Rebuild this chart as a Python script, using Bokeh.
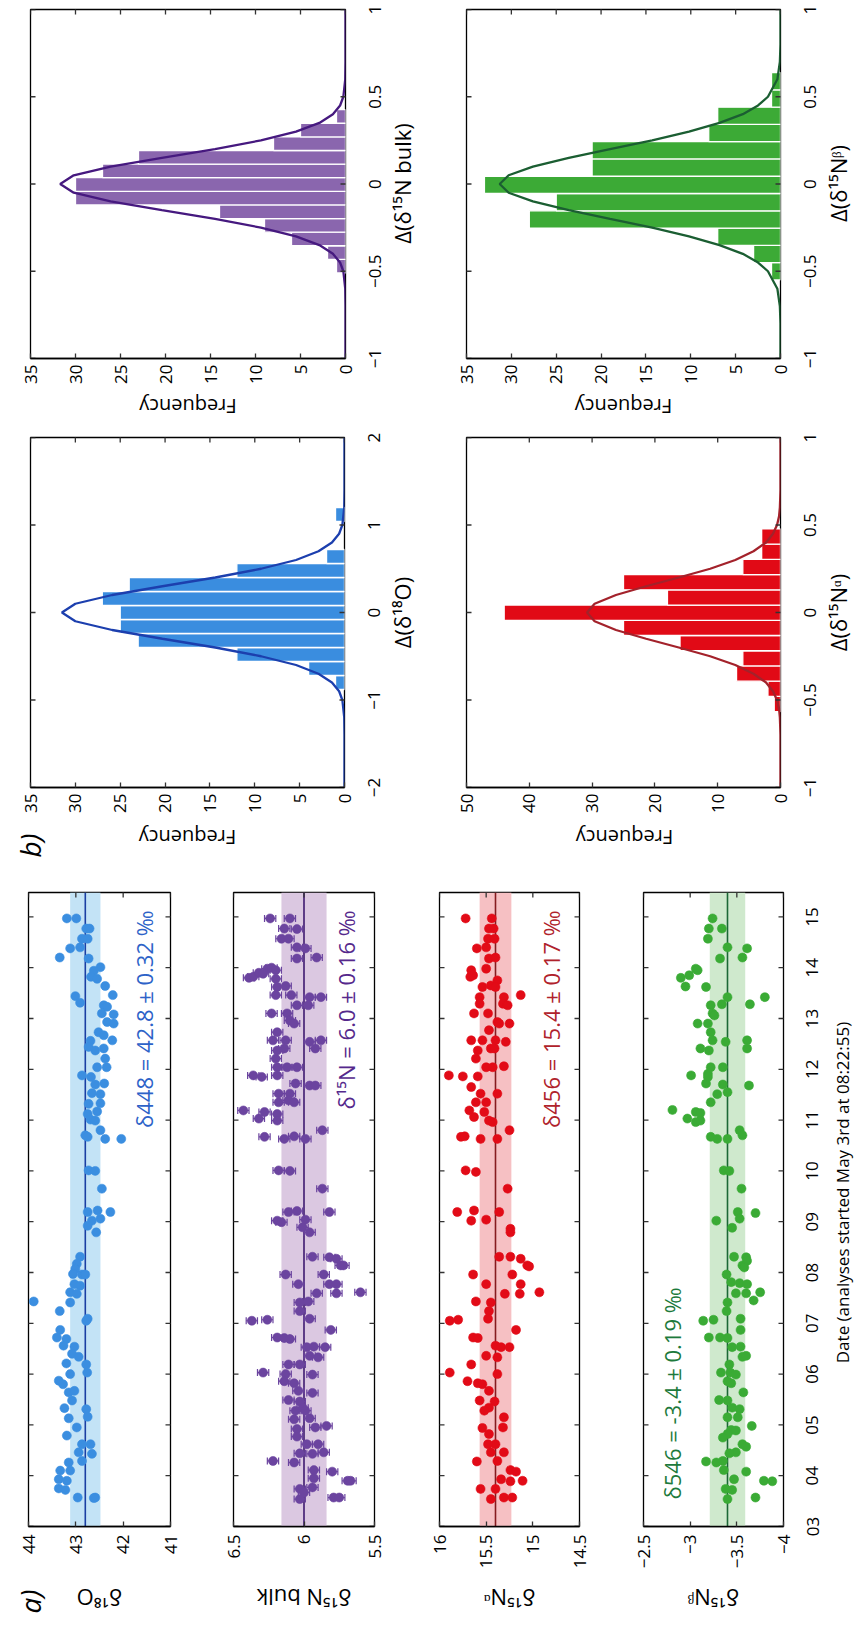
import math
from bokeh.plotting import figure
from bokeh.models import (Range1d, FixedTicker, LinearAxis, BoxAnnotation, Span, Label,
                          ColumnDataSource, Whisker, TeeHead)
from bokeh.layouts import column, row
from bokeh.embed import file_html
from bokeh.resources import INLINE

FONT = "Open Sans"
TICK_SIZE = "17px"

# ---------------- data: time series (date in May, value) ----------------
date_ticks = [3, 4, 5, 6, 7, 8, 9, 10, 11, 12, 13, 14, 15]
date_tick_labels = ["03", "04", "05", "06", "07", "08", "09", "10", "11", "12", "13", "14", "15"]

d18O_points = [
    (14.97, 43.19), (14.97, 42.99), (14.77, 42.78), (14.77, 42.71), (14.57, 42.87), (14.57, 42.75),
    (14.38, 43.12), (14.40, 42.91), (14.20, 43.34), (14.18, 42.73), (14.01, 42.48), (13.94, 42.62),
    (13.82, 42.68), (13.78, 42.55), (13.64, 42.38), (13.44, 43.01), (13.31, 42.91), (13.46, 42.22),
    (13.26, 42.41), (13.23, 42.34), (13.10, 42.45), (13.08, 42.20), (12.93, 42.34), (12.90, 42.20),
    (12.73, 42.52), (12.67, 42.41), (12.57, 42.23), (12.56, 42.69), (12.37, 42.59), (12.41, 42.41),
    (12.44, 42.73), (12.21, 42.38), (12.04, 42.55), (12.04, 42.35), (11.88, 42.87), (11.85, 42.68),
    (11.70, 42.59), (11.72, 42.40), (11.53, 42.66), (11.51, 42.48), (11.32, 42.73), (11.33, 42.48),
    (11.17, 42.55), (11.12, 42.75), (11.01, 42.69), (10.99, 42.59), (10.80, 42.48), (10.63, 42.38),
    (10.70, 42.80), (10.67, 42.75), (10.63, 42.04), (10.01, 42.73), (10.00, 42.59), (9.65, 42.45),
    (9.19, 42.75), (9.22, 42.54), (9.19, 42.27), (9.02, 42.66), (9.06, 42.48), (8.92, 42.75),
    (8.79, 42.57), (8.31, 42.91), (8.17, 42.98), (8.07, 43.01), (7.96, 42.87), (7.97, 43.06),
    (7.96, 42.80), (7.77, 43.03), (7.74, 42.91), (7.61, 43.12), (7.58, 42.98), (7.43, 43.89),
    (7.41, 43.12), (7.24, 43.34), (7.09, 42.75), (7.05, 42.78), (6.87, 43.33), (6.72, 43.40),
    (6.69, 43.20), (6.56, 43.26), (6.54, 43.03), (6.40, 43.08), (6.34, 42.94), (6.21, 43.20),
    (6.19, 42.78), (6.03, 42.76), (6.00, 43.12), (5.87, 43.36), (5.80, 43.27), (5.64, 43.15),
    (5.67, 43.03), (5.48, 43.08), (5.33, 43.24), (5.31, 42.78), (5.16, 42.75), (5.13, 43.15),
    (4.95, 42.98), (4.79, 43.19), (4.62, 42.87), (4.62, 42.69), (4.46, 42.94), (4.43, 42.66),
    (4.29, 42.87), (4.26, 43.15), (4.10, 43.12), (4.10, 43.33), (3.93, 43.36), (3.90, 43.19),
    (3.75, 43.36), (3.72, 43.22), (3.57, 42.96), (3.57, 42.59), (3.56, 42.62),
]

bulk_points = [
    (14.97, 6.24), (14.97, 6.10), (14.77, 6.14), (14.76, 6.05), (14.57, 6.16), (14.57, 6.11),
    (14.40, 6.05), (14.38, 5.99), (14.20, 5.91), (14.18, 6.05), (13.80, 6.39), (13.82, 6.36),
    (13.90, 6.32), (13.98, 6.26), (14.00, 6.23), (13.95, 6.20), (13.88, 6.29), (13.78, 6.20),
    (13.62, 6.19), (13.64, 6.13), (13.46, 6.09), (13.46, 6.20), (13.42, 5.96), (13.42, 5.88),
    (13.26, 6.05), (13.26, 5.97), (13.10, 6.23), (13.10, 6.12), (12.96, 6.10), (12.90, 6.07),
    (12.73, 6.19), (12.57, 6.22), (12.57, 6.13), (12.41, 6.14), (12.37, 6.19), (12.54, 5.96),
    (12.57, 5.88), (12.41, 5.92), (12.21, 6.20), (12.04, 6.19), (12.04, 6.12), (12.04, 6.05),
    (11.88, 6.36), (11.85, 6.30), (11.88, 6.19), (11.72, 6.06), (11.52, 6.18), (11.52, 6.10),
    (11.35, 6.18), (11.68, 5.96), (11.68, 5.92), (11.39, 6.11), (11.35, 6.07), (11.19, 6.43),
    (11.03, 6.32), (11.16, 6.28), (11.12, 6.19), (10.99, 6.19), (10.67, 6.28), (10.63, 6.14),
    (10.68, 6.07), (10.63, 5.99), (10.80, 5.87), (10.01, 6.18), (10.00, 6.10), (9.65, 5.87),
    (9.19, 6.11), (9.21, 6.05), (9.19, 5.82), (9.02, 6.19), (8.99, 6.16), (9.04, 5.99),
    (8.89, 6.01), (8.79, 5.96), (8.31, 5.94), (8.30, 5.82), (8.27, 5.77), (8.14, 5.74),
    (8.14, 5.72), (7.96, 6.13), (7.96, 5.86), (7.77, 6.04), (7.77, 5.82), (7.77, 5.77),
    (7.59, 5.91), (7.59, 5.77), (7.61, 5.60), (7.41, 6.03), (7.43, 5.97), (7.24, 6.03),
    (7.09, 5.96), (7.05, 6.37), (7.07, 6.26), (6.87, 5.81), (6.72, 6.19), (6.71, 6.14),
    (6.69, 6.10), (6.53, 5.98), (6.54, 5.93), (6.53, 5.85), (6.36, 5.96), (6.33, 5.90),
    (6.19, 6.11), (6.19, 6.03), (6.03, 6.29), (6.00, 6.13), (5.99, 5.94), (5.86, 6.14),
    (5.82, 6.07), (5.67, 6.04), (5.63, 5.94), (5.49, 6.11), (5.46, 6.03), (5.34, 6.01),
    (5.28, 6.06), (5.28, 5.99), (5.13, 5.96), (5.11, 6.07), (4.98, 5.84), (4.92, 6.05),
    (4.95, 5.92), (4.77, 6.05), (4.62, 5.98), (4.62, 5.90), (4.46, 5.86), (4.43, 5.94),
    (4.44, 6.03), (4.29, 6.22), (4.26, 6.07), (4.11, 5.93), (4.08, 5.80), (3.95, 5.93),
    (3.90, 5.69), (3.90, 5.67), (3.77, 5.94), (3.74, 6.03), (3.67, 6.00), (3.54, 6.03),
    (3.57, 5.79), (3.57, 5.75),
]

alpha_points = [
    (14.97, 15.72), (14.97, 15.44), (14.77, 15.47), (14.77, 15.42), (14.57, 15.48), (14.57, 15.41),
    (14.38, 15.60), (14.40, 15.50), (14.18, 15.47), (14.20, 15.40), (13.95, 15.66), (13.82, 15.67),
    (13.85, 15.64), (13.98, 15.50), (13.62, 15.54), (13.65, 15.45), (13.75, 15.38), (13.62, 15.40),
    (13.46, 15.13), (13.42, 15.31), (13.29, 15.32), (13.26, 15.27), (13.42, 15.57), (13.29, 15.57),
    (13.10, 15.63), (13.10, 15.48), (12.93, 15.38), (12.90, 15.36), (12.90, 15.25), (12.77, 15.47),
    (12.57, 15.66), (12.57, 15.54), (12.57, 15.40), (12.54, 15.29), (12.37, 15.59), (12.41, 15.45),
    (12.41, 15.41), (12.21, 15.61), (12.04, 15.50), (12.04, 15.43), (12.06, 15.31), (11.88, 15.90),
    (11.86, 15.75), (11.86, 15.59), (11.65, 15.66), (11.52, 15.56), (11.52, 15.38), (11.35, 15.61),
    (11.35, 15.50), (11.19, 15.68), (11.06, 15.63), (11.16, 15.52), (10.99, 15.47), (10.96, 15.43),
    (10.80, 15.25), (10.67, 15.77), (10.68, 15.73), (10.63, 15.56), (10.63, 15.38), (10.01, 15.72),
    (9.98, 15.61), (9.65, 15.27), (9.19, 15.81), (9.22, 15.63), (9.19, 15.36), (9.02, 15.66),
    (9.04, 15.50), (8.86, 15.24), (8.79, 15.24), (8.31, 15.36), (8.31, 15.24), (8.27, 15.13),
    (8.14, 15.06), (8.12, 15.04), (7.96, 15.64), (7.77, 15.50), (7.96, 15.22), (7.77, 15.13),
    (7.61, 14.93), (7.58, 15.30), (7.58, 15.14), (7.43, 15.61), (7.41, 15.45), (7.24, 15.47),
    (7.09, 15.48), (7.05, 15.89), (7.07, 15.80), (6.87, 15.18), (6.72, 15.64), (6.71, 15.59),
    (6.56, 15.40), (6.53, 15.34), (6.53, 15.25), (6.36, 15.50), (6.33, 15.38), (6.19, 15.66),
    (6.00, 15.38), (6.03, 15.89), (5.86, 15.70), (5.82, 15.59), (5.80, 15.54), (5.67, 15.47),
    (5.48, 15.57), (5.46, 15.41), (5.34, 15.47), (5.28, 15.52), (5.15, 15.31), (4.95, 15.32),
    (4.94, 15.54), (4.82, 15.47), (4.62, 15.40), (4.62, 15.48), (4.46, 15.31), (4.46, 15.45),
    (4.29, 15.38), (4.28, 15.60), (4.11, 15.24), (4.08, 15.18), (3.90, 15.11), (3.89, 15.24),
    (3.93, 15.34), (3.74, 15.56), (3.74, 15.40), (3.54, 15.45), (3.57, 15.31), (3.57, 15.22),
]

beta_points = [
    (14.97, -3.24), (14.77, -3.20), (14.77, -3.34), (14.57, -3.19), (14.40, -3.40), (14.38, -3.61),
    (14.18, -3.32), (14.20, -3.56), (13.80, -2.90), (13.63, -2.95), (13.85, -2.99), (13.98, -3.06),
    (13.95, -3.08), (13.62, -3.17), (13.42, -3.40), (13.42, -3.80), (13.28, -3.64), (13.28, -3.34),
    (13.26, -3.22), (13.10, -3.24), (13.06, -3.26), (12.90, -3.08), (12.90, -3.19), (12.73, -3.22),
    (12.57, -3.24), (12.54, -3.38), (12.57, -3.61), (12.41, -3.11), (12.37, -3.20), (12.41, -3.61),
    (12.04, -3.22), (12.04, -3.35), (11.88, -3.01), (11.72, -3.17), (11.91, -3.19), (11.85, -3.19),
    (11.70, -3.35), (11.55, -3.40), (11.51, -3.29), (11.68, -3.63), (11.35, -3.22), (11.20, -2.81),
    (11.03, -2.97), (11.16, -3.06), (11.14, -3.11), (10.96, -3.06), (10.99, -3.11), (10.67, -3.22),
    (10.63, -3.29), (10.63, -3.40), (10.80, -3.53), (10.70, -3.56), (10.01, -3.36), (10.00, -3.42),
    (9.65, -3.55), (9.02, -3.28), (9.19, -3.51), (9.17, -3.70), (9.06, -3.53), (8.88, -3.45),
    (8.31, -3.47), (8.30, -3.60), (8.23, -3.61), (8.14, -3.56), (8.10, -3.58), (7.96, -3.39),
    (7.81, -3.44), (7.79, -3.53), (7.77, -3.61), (7.61, -3.75), (7.59, -3.49), (7.59, -3.60),
    (7.45, -3.68), (7.41, -3.40), (7.24, -3.39), (7.05, -3.14), (7.07, -3.25), (7.09, -3.54),
    (6.72, -3.20), (6.72, -3.32), (6.71, -3.40), (6.87, -3.54), (6.53, -3.45), (6.54, -3.54),
    (6.34, -3.56), (6.19, -3.42), (6.36, -3.60), (6.03, -3.43), (6.03, -3.33), (5.99, -3.49),
    (5.86, -3.40), (5.82, -3.44), (5.64, -3.57), (5.49, -3.31), (5.48, -3.40), (5.34, -3.45),
    (5.31, -3.53), (5.15, -3.40), (5.15, -3.51), (4.98, -3.66), (4.90, -3.44), (4.82, -3.40),
    (4.89, -3.49), (4.75, -3.35), (4.62, -3.56), (4.57, -3.60), (4.46, -3.49), (4.44, -3.42),
    (4.28, -3.17), (4.26, -3.28), (4.29, -3.35), (4.11, -3.36), (4.08, -3.60), (3.93, -3.47),
    (3.90, -3.79), (3.89, -3.88), (3.74, -3.38), (3.72, -3.45), (3.57, -3.70), (3.54, -3.40),
]

strip_means = [42.8, 6.0, 15.4, -3.4]
strip_sds = [0.32, 0.16, 0.17, 0.19]
strip_errs = [0.05, 0.04, 0.03, 0.03]
strip_value_ranges = [(44, 41), (6.5, 5.5), (16, 14.5), (-2.5, -4)]
strip_ticks = [[44, 43, 42, 41], [6.5, 6, 5.5], [16, 15.5, 15, 14.5], [-2.5, -3, -3.5, -4]]
strip_tick_labels = [["44", "43", "42", "41"], ["6.5", "6", "5.5"],
                     ["16", "15.5", "15", "14.5"], ["\u22122.5", "\u22123", "\u22123.5", "\u22124"]]
strip_ylabels = ["\u03b4\u00b9\u2078O", "\u03b4\u00b9\u2075N bulk", "\u03b4\u00b9\u2075N\u1d45", "\u03b4\u00b9\u2075N\u1d5d"]
strip_notes = ["\u03b4448 = 42.8 \u00b1 0.32 \u2030", "\u03b4\u00b9\u2075N = 6.0 \u00b1 0.16 \u2030",
               "\u03b4456 = 15.4 \u00b1 0.17 \u2030", "\u03b4546 = -3.4 \u00b1 0.19 \u2030"]
date_axis_title = "Date (analyses started May 3rd at 08:22:55)"

# ---------------- data: histograms of deviations ----------------
h18O_centers = [-0.80, -0.64, -0.48, -0.32, -0.16, 0.0, 0.16, 0.32, 0.48, 0.64, 1.12]
h18O_counts = [1, 4, 12, 23, 25, 25, 27, 24, 12, 2, 1]
h18O_curve_delta = [-2.0, -1.6, -1.4, -1.2, -1.0, -0.9, -0.8, -0.7, -0.6, -0.5, -0.4, -0.3, -0.2, -0.1,
                    0.0, 0.1, 0.2, 0.3, 0.4, 0.5, 0.6, 0.7, 0.8, 0.9, 1.0, 1.2, 1.4, 1.6, 2.0]
h18O_curve_freq = [0, 0, 0, 0.03, 0.24, 0.6, 1.4, 2.9, 5.4, 9.3, 14.4, 20.3, 25.9, 30.0,
                   31.5, 30.0, 25.9, 20.3, 14.4, 9.3, 5.4, 2.9, 1.4, 0.6, 0.24, 0.03, 0, 0, 0]

hbulk_centers = [-0.471, -0.393, -0.315, -0.237, -0.159, -0.081, -0.003, 0.075, 0.153, 0.231, 0.309, 0.387]
hbulk_counts = [1, 2, 6, 9, 14, 30, 30, 27, 23, 8, 5, 1]
hbulk_curve_delta = [-1.0, -0.8, -0.7, -0.6, -0.5, -0.45, -0.4, -0.35, -0.3, -0.25, -0.2, -0.15, -0.1, -0.05,
                     0.0, 0.05, 0.1, 0.15, 0.2, 0.25, 0.3, 0.35, 0.4, 0.45, 0.5, 0.6, 0.7, 0.8, 1.0]
hbulk_curve_freq = [0, 0, 0, 0.03, 0.24, 0.6, 1.4, 2.9, 5.5, 9.4, 14.5, 20.4, 26.1, 30.2,
                    31.7, 30.2, 26.1, 20.4, 14.5, 9.4, 5.5, 2.9, 1.4, 0.6, 0.24, 0.03, 0, 0, 0]

halpha_centers = [-0.523, -0.436, -0.349, -0.262, -0.175, -0.088, -0.001, 0.086, 0.173, 0.260, 0.347, 0.434]
halpha_counts = [1, 2, 7, 6, 16, 25, 44, 18, 25, 6, 3, 3]
halpha_curve_delta = [-1.0, -0.8, -0.7, -0.6, -0.55, -0.5, -0.45, -0.4, -0.35, -0.3, -0.25, -0.2, -0.15, -0.1, -0.05,
                      0.0, 0.05, 0.1, 0.15, 0.2, 0.25, 0.3, 0.35, 0.4, 0.45, 0.5, 0.55, 0.6, 0.7, 0.8, 1.0]
halpha_curve_freq = [0, 0, 0, 0.1, 0.23, 0.55, 1.2, 2.3, 4.3, 7.2, 11.2, 16.2, 21.4, 26.2, 29.6,
                     30.8, 29.6, 26.2, 21.4, 16.2, 11.2, 7.2, 4.3, 2.3, 1.2, 0.55, 0.23, 0.1, 0, 0, 0]

hbeta_centers = [-0.500, -0.401, -0.302, -0.203, -0.104, -0.005, 0.094, 0.193, 0.292, 0.391, 0.490, 0.589]
hbeta_counts = [1, 3, 7, 28, 25, 33, 21, 21, 8, 7, 1, 1]
hbeta_curve_delta = [-1.0, -0.9, -0.8, -0.7, -0.6, -0.5, -0.45, -0.4, -0.35, -0.3, -0.25, -0.2, -0.15, -0.1, -0.05,
                     0.0, 0.05, 0.1, 0.15, 0.2, 0.25, 0.3, 0.35, 0.4, 0.45, 0.5, 0.6, 0.7, 0.8, 0.9, 1.0]
hbeta_curve_freq = [0, 0, 0, 0.07, 0.35, 1.4, 2.5, 4.2, 6.8, 10.2, 14.3, 19.0, 23.6, 27.6, 30.3,
                    31.3, 30.3, 27.6, 23.6, 19.0, 14.3, 10.2, 6.8, 4.2, 2.5, 1.4, 0.35, 0.07, 0, 0, 0]

freq_ticks_35 = [0, 5, 10, 15, 20, 25, 30, 35]
freq_ticks_50 = [0, 10, 20, 30, 40, 50]
delta_ticks_1 = [-1, -0.5, 0, 0.5, 1]
delta_labels_1 = ["\u22121", "\u22120.5", "0", "0.5", "1"]
delta_ticks_2 = [-2, -1, 0, 1, 2]
delta_labels_2 = ["\u22122", "\u22121", "0", "1", "2"]

# ---------------- styling ----------------
PAL = {
    "blue":   dict(pt="#3b8ee0", band="#c3e3f6", line="#1b3fa3", text="#2d62c8", bar="#3a8ddf", curve="#1c3fae"),
    "purple": dict(pt="#6b449f", band="#dbc8e1", line="#3e1a70", text="#55288c", bar="#8a66ae", curve="#46197f"),
    "red":    dict(pt="#e20b17", band="#f6c0c3", line="#861b1f", text="#b0222b", bar="#e10a16", curve="#a3222b"),
    "green":  dict(pt="#3aab35", band="#cfe9cd", line="#1c6836", text="#1d7a3c", bar="#3caa36", curve="#1b5e32"),
}
TICKC = "#333333"


def base_fig(w, h, xr, yr, lb, rb, tb, bb, outline=True):
    p = figure(width=w, height=h, x_range=xr, y_range=yr,
               output_backend="svg", toolbar_location=None,
               x_axis_location=None, y_axis_location=None,
               min_border_left=lb, min_border_right=rb, min_border_top=tb, min_border_bottom=bb)
    p.grid.visible = False
    p.outline_line_color = "black" if outline else None
    p.outline_line_width = 1.3
    p.background_fill_color = "white"
    p.border_fill_color = "white"
    return p


def bottom_axis(p, ticks, labels=None, standoff=6):
    ax = LinearAxis(ticker=FixedTicker(ticks=ticks))
    ax.major_tick_in = 5
    ax.major_tick_out = 0
    ax.minor_tick_line_color = None
    ax.axis_line_color = "black"
    ax.axis_line_width = 1.3
    ax.major_tick_line_color = TICKC
    ax.major_tick_line_width = 1.3
    ax.major_label_text_font = FONT
    ax.major_label_text_font_size = TICK_SIZE
    ax.major_label_text_color = "black"
    ax.major_label_orientation = math.pi / 2
    ax.major_label_standoff = standoff
    if labels is not None:
        ax.major_label_overrides = {t: l for t, l in zip(ticks, labels)}
    p.add_layout(ax, "below")


def label_axis_left(p, ticks, labels, standoff=2):
    # tick labels only (no line, no tick marks), read bottom-to-top
    ax = LinearAxis(ticker=FixedTicker(ticks=ticks))
    ax.major_tick_in = 0
    ax.major_tick_out = 0
    ax.minor_tick_line_color = None
    ax.axis_line_color = None
    ax.major_tick_line_color = None
    ax.major_label_text_font = FONT
    ax.major_label_text_font_size = TICK_SIZE
    ax.major_label_text_color = "black"
    ax.major_label_orientation = "parallel"
    ax.major_label_standoff = standoff
    ax.major_label_overrides = {t: l for t, l in zip(ticks, labels)}
    p.add_layout(ax, "left")


def edge_ticks(p, xs, ys, vertical):
    # inward tick marks on the mirrored box sides (half of each dash is clipped by the frame)
    p.scatter(x=xs, y=ys, marker="dash", size=10, angle=(math.pi / 2 if vertical else 0.0),
              line_color=TICKC, line_width=1.3)


def add_label(p, x, y, text, angle, size, color="black", align="center", style="normal"):
    p.add_layout(Label(x=x, y=y, x_units="screen", y_units="screen", text=text, angle=angle,
                       text_align=align, text_baseline="middle", text_font=FONT,
                       text_font_size=size, text_color=color, text_font_style=style))


def blank_fig(w, h, lb=0, tb=0, bb=0, yr=None):
    return base_fig(w, h, Range1d(0, 1), yr if yr is not None else Range1d(0, 1), lb, 0, tb, bb, outline=False)


# ---------------- histograms ----------------
def hist_main(w, h, lb, rb, tb, bb, yr, centers, counts, bw, cdelta, cfreq, fmax, fticks, dlim, dticks, colors):
    p = base_fig(w, h, Range1d(fmax, 0), yr, lb, rb, tb, bb)
    p.hbar(y=centers, height=bw, left=0, right=counts, fill_color=colors["bar"],
           line_color="white", line_width=1.3)
    p.line(x=cfreq, y=cdelta, line_color=colors["curve"], line_width=2.3)
    bottom_axis(p, fticks)
    edge_ticks(p, fticks, [dlim] * len(fticks), True)
    edge_ticks(p, [fmax] * len(dticks), dticks, False)
    edge_ticks(p, [0] * len(dticks), dticks, False)
    return p


def hist_side(w, h, lb, tb, bb, yr, dticks, dlabels, title, tx, ty):
    p = blank_fig(w, h, lb, tb, bb, yr)
    label_axis_left(p, dticks, dlabels)
    add_label(p, tx, ty, title, math.pi / 2, "22px")
    return p


yr_bulk, yr_beta = Range1d(-1, 1), Range1d(-1, 1)
yr_18O, yr_alpha = Range1d(-2, 2), Range1d(-1, 1)

# row 1: y 0..386, frames at y 9..359
h_bulk = hist_main(357, 386, 30, 12, 9, 27, yr_bulk, hbulk_centers, hbulk_counts, 0.078,
                   hbulk_curve_delta, hbulk_curve_freq, 35, freq_ticks_35, 1, delta_ticks_1, PAL["purple"])
h_bulk_side = hist_side(70, 386, 25, 9, 27, yr_bulk, delta_ticks_1, delta_labels_1,
                        "\u0394(\u03b4\u00b9\u2075N bulk)", 19, 175)
h_beta = hist_main(365, 386, 39, 12, 9, 27, yr_beta, hbeta_centers, hbeta_counts, 0.099,
                   hbeta_curve_delta, hbeta_curve_freq, 35, freq_ticks_35, 1, delta_ticks_1, PAL["green"])
h_beta_side = hist_side(62, 386, 25, 9, 27, yr_beta, delta_ticks_1, delta_labels_1,
                        "\u0394(\u03b4\u00b9\u2075N\u1d5d)", 20, 175)

freq_row1 = blank_fig(854, 34)
add_label(freq_row1, 187.5, 14, "Frequency", math.pi, "20px")
add_label(freq_row1, 623, 14, "Frequency", math.pi, "20px")

# row 2: y 420..817, frames at y 437..787
h_18O = hist_main(356, 397, 30, 12, 17, 30, yr_18O, h18O_centers, h18O_counts, 0.16,
                  h18O_curve_delta, h18O_curve_freq, 35, freq_ticks_35, 2, delta_ticks_2, PAL["blue"])
h_18O_side = hist_side(71, 397, 25, 17, 30, yr_18O, delta_ticks_2, delta_labels_2,
                       "\u0394(\u03b4\u00b9\u2078O)", 20, 175)
h_alpha = hist_main(365, 397, 39, 12, 17, 30, yr_alpha, halpha_centers, halpha_counts, 0.087,
                    halpha_curve_delta, halpha_curve_freq, 50, freq_ticks_50, 1, delta_ticks_1, PAL["red"])
h_alpha_side = hist_side(62, 397, 25, 17, 30, yr_alpha, delta_ticks_1, delta_labels_1,
                         "\u0394(\u03b4\u00b9\u2075N\u1d45)", 20, 175)

freq_row2 = blank_fig(854, 53)
add_label(freq_row2, 187, 33, "Frequency", math.pi, "20px")
add_label(freq_row2, 624, 33, "Frequency", math.pi, "20px")
add_label(freq_row2, 29, 25, "b)", math.pi / 2, "28px", style="italic")

# ---------------- strips: y 870..1575, frames at y 892..1526 ----------------
strip_widths = [200, 205, 205, 185]
strip_lb = [28, 33, 34, 33]
strip_rb = [30, 31, 31, 12]
note_pos = [(115, 616), (112, 616), (111, 616), (28, 239)]
strip_colors = [PAL["blue"], PAL["purple"], PAL["red"], PAL["green"]]
all_points = [d18O_points, bulk_points, alpha_points, beta_points]
date_range = Range1d(3, 15.48)

strips = []
for i in range(4):
    w, lb, rb = strip_widths[i], strip_lb[i], strip_rb[i]
    col = strip_colors[i]
    xr = Range1d(*strip_value_ranges[i])
    p = base_fig(w, 705, xr, date_range, lb, rb, 22, 49)
    mean, sd, err = strip_means[i], strip_sds[i], strip_errs[i]
    p.add_layout(BoxAnnotation(left=mean - sd, right=mean + sd, fill_color=col["band"], fill_alpha=1.0,
                               line_color=None, level="underlay"))
    p.add_layout(Span(location=mean, dimension="height", line_color=col["line"], line_width=1.6,
                      level="underlay"))
    dates = [d for d, v in all_points[i]]
    vals = [v for d, v in all_points[i]]
    src = ColumnDataSource(dict(d=dates, v=vals,
                                lo=[v - err for v in vals], hi=[v + err for v in vals]))
    p.add_layout(Whisker(source=src, base="d", lower="lo", upper="hi", dimension="width",
                         line_color=col["pt"], line_width=1.2,
                         upper_head=TeeHead(size=7, line_color=col["pt"], line_width=1.2),
                         lower_head=TeeHead(size=7, line_color=col["pt"], line_width=1.2)))
    p.scatter("v", "d", source=src, size=9, fill_color=col["pt"], line_color=col["pt"], line_width=0.6)
    bottom_axis(p, strip_ticks[i], strip_tick_labels[i], standoff=8)
    x0, x1 = strip_value_ranges[i]
    edge_ticks(p, strip_ticks[i], [date_range.end] * len(strip_ticks[i]), True)
    edge_ticks(p, [x0] * len(date_ticks), date_ticks, False)
    edge_ticks(p, [x1] * len(date_ticks), date_ticks, False)
    nx, ny = note_pos[i]
    add_label(p, nx, ny, strip_notes[i], math.pi / 2, "22px", color=col["text"], align="right")
    strips.append(p)

date_side = blank_fig(59, 705, 25, 22, 49, date_range)
label_axis_left(date_side, date_ticks, date_tick_labels)
add_label(date_side, 22, 334, date_axis_title, math.pi / 2, "17px")

strip_label_row = blank_fig(854, 56)
for cx, txt in zip([99, 303.5, 509, 713], strip_ylabels):
    add_label(strip_label_row, cx, 34, txt, math.pi, "22px")
add_label(strip_label_row, 29, 30, "a)", math.pi / 2, "28px", style="italic")

layout = column(
    row(h_bulk, h_bulk_side, h_beta, h_beta_side),
    freq_row1,
    row(h_18O, h_18O_side, h_alpha, h_alpha_side),
    freq_row2,
    row(*strips, date_side),
    strip_label_row,
)
open("out.html", "w").write(file_html(layout, INLINE))
